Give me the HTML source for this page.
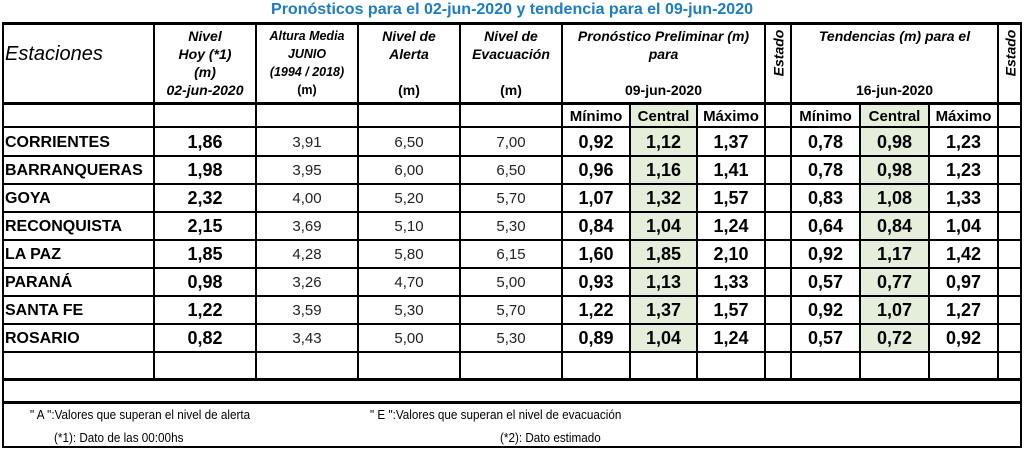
<!DOCTYPE html>
<html><head><meta charset="utf-8"><style>
body{margin:0;width:1024px;height:450px;background:#fff;position:relative;overflow:hidden;font-family:"Liberation Sans",sans-serif;}
.c{position:absolute;box-sizing:border-box;display:flex;align-items:center;justify-content:center;text-align:center;color:#000;}
.l{position:absolute;background:#000;}
.t{position:absolute;white-space:nowrap;}
</style></head><body>
<div class="t" style="left:0;width:1024px;top:1px;text-align:center;font-weight:bold;font-size:16px;color:#1c7cc4;">Pronósticos para el 02-jun-2020 y tendencia para el 09-jun-2020</div>
<div id="g"></div>
<script>
const stations=["CORRIENTES","BARRANQUERAS","GOYA","RECONQUISTA","LA PAZ","PARANÁ","SANTA FE","ROSARIO"];
const nivelHoy=["1,86","1,98","2,32","2,15","1,85","0,98","1,22","0,82"];
const alturaMedia=["3,91","3,95","4,00","3,69","4,28","3,26","3,59","3,43"];
const nivelAlerta=["6,50","6,00","5,20","5,10","5,80","4,70","5,30","5,00"];
const nivelEvac=["7,00","6,50","5,70","5,30","6,15","5,00","5,70","5,30"];
const pronMin=["0,92","0,96","1,07","0,84","1,60","0,93","1,22","0,89"];
const pronCen=["1,12","1,16","1,32","1,04","1,85","1,13","1,37","1,04"];
const pronMax=["1,37","1,41","1,57","1,24","2,10","1,33","1,57","1,24"];
const tenMin=["0,78","0,78","0,83","0,64","0,92","0,57","0,92","0,57"];
const tenCen=["0,98","0,98","1,08","0,84","1,17","0,77","1,07","0,72"];
const tenMax=["1,23","1,23","1,33","1,04","1,42","0,97","1,27","0,92"];

const X=[2,154,256,358,460,562,630,697,765,791,860,929,998,1022];
const g=document.getElementById('g');
function cell(x0,x1,y0,y1,html,style,name){
  const d=document.createElement('div');d.className='c';
  d.style.cssText=`left:${x0}px;top:${y0}px;width:${x1-x0}px;height:${y1-y0}px;`+(style||'');
  d.innerHTML=html;
  
  
  g.appendChild(d);return d;
}
function hl(x0,x1,y,h){const d=document.createElement('div');d.className='l';d.style.cssText=`left:${x0}px;top:${y}px;width:${x1-x0}px;height:${h}px`;


g.appendChild(d);}
function vl(x,y0,y1,w){const d=document.createElement('div');d.className='l';d.style.cssText=`left:${x}px;top:${y0}px;width:${w}px;height:${y1-y0}px`;


g.appendChild(d);}
const green='background:#e5eedb;';
cell(X[6],X[7],104,351,'',green,'central-bg');
cell(X[10],X[11],104,351,'',green,'central-bg');
const hi='font-style:italic;font-weight:bold;font-size:14px;line-height:18px;';
cell(X[0],X[1],22,104,'<div style="width:100%;text-align:left;padding-left:3px;padding-bottom:18px;font-style:italic;font-size:20px">Estaciones</div>','','header-estaciones');
cell(X[1],X[2],22,104,'<div><i>Nivel<br>Hoy (*1)<br>(m)</i><br>02-jun-2020</div>',hi,'header-nivel-hoy');
cell(X[2],X[3],22,104,'<div>Altura Media<br>JUNIO<br>(1994 / 2018)<br><span style="font-style:normal">(m)</span></div>',hi+'font-size:12.5px;','header-altura-media');
cell(X[3],X[4],22,104,'<div>Nivel de<br>Alerta<br><br><span style="font-style:normal">(m)</span></div>',hi,'header-alerta');
cell(X[4],X[5],22,104,'<div>Nivel de<br>Evacuación<br><br><span style="font-style:normal">(m)</span></div>',hi,'header-evacuacion');
cell(X[5],X[8],22,104,'<div>Pronóstico Preliminar (m)<br>para<br><br><span style="font-style:normal">09-jun-2020</span></div>',hi,'header-pronostico');
cell(X[9],X[12],22,104,'<div>Tendencias (m) para el<br><br><br><span style="font-style:normal">16-jun-2020</span></div>',hi,'header-tendencias');
[[8,'header-estado-1'],[12,'header-estado-2']].forEach(([i,n])=>{
  cell(X[i],X[i+1],22,104,'<div style="transform:rotate(-90deg);white-space:nowrap">Estado</div>',hi+'align-items:flex-start;padding-top:22px;',n);
});
const sub='font-weight:bold;font-size:15px;';
['Mínimo','Central','Máximo'].forEach((s,i)=>{cell(X[5+i],X[6+i],104,128,s,sub,'subheader-pron-'+s.toLowerCase());cell(X[9+i],X[10+i],104,128,s,sub,'subheader-tend-'+s.toLowerCase());});
const R0=128,RH=28;
const big='font-weight:bold;font-size:18px;';const sm='font-size:15px;color:#222;';
stations.forEach((s,r)=>{
  const y0=R0+r*RH,y1=y0+RH;
  cell(X[0],X[1],y0,y1,'<div style="width:100%;text-align:left;padding-left:3px;padding-top:2px">'+s+'</div>','font-weight:bold;font-size:16px;','station-name');
  cell(X[1],X[2],y0,y1,nivelHoy[r],big,'nivel-hoy-value');
  cell(X[2],X[3],y0,y1,alturaMedia[r],sm,'altura-media-value');
  cell(X[3],X[4],y0,y1,nivelAlerta[r],sm,'nivel-alerta-value');
  cell(X[4],X[5],y0,y1,nivelEvac[r],sm,'nivel-evacuacion-value');
  cell(X[5],X[6],y0,y1,pronMin[r],big,'pronostico-minimo');
  cell(X[6],X[7],y0,y1,pronCen[r],big,'pronostico-central');
  cell(X[7],X[8],y0,y1,pronMax[r],big,'pronostico-maximo');
  cell(X[9],X[10],y0,y1,tenMin[r],big,'tendencia-minimo');
  cell(X[10],X[11],y0,y1,tenCen[r],big,'tendencia-central');
  cell(X[11],X[12],y0,y1,tenMax[r],big,'tendencia-maximo');
});
hl(2,1022,22,3);hl(2,1022,102,3);hl(2,1022,126,2);
for(let r=1;r<=9;r++){hl(2,1022,R0+r*RH-1,2);}
vl(2,22,448,2);vl(1020,22,448,2);
[1,2,3,4,5,8,9,12].forEach(i=>vl(X[i]-1,22,379,2));
[6,7,10,11].forEach(i=>vl(X[i]-1,102,379,2));
hl(2,1022,378,3);hl(2,1022,401,3);hl(2,1022,446,2);
[["\" A \":Valores que superan el nivel de alerta",30,407],["\" E \":Valores que superan el nivel de evacuación",370,407],["(*1): Dato de las 00:00hs",54,430],["(*2): Dato estimado",500,430]].forEach(([t,x,y])=>{
  const d=document.createElement('div');d.className='t';d.style.cssText=`left:${x}px;top:${y}px;font-size:13px;transform:scaleX(0.9);transform-origin:left;`;d.textContent=t;
  
  
  g.appendChild(d);
});
</script>
</body></html>
